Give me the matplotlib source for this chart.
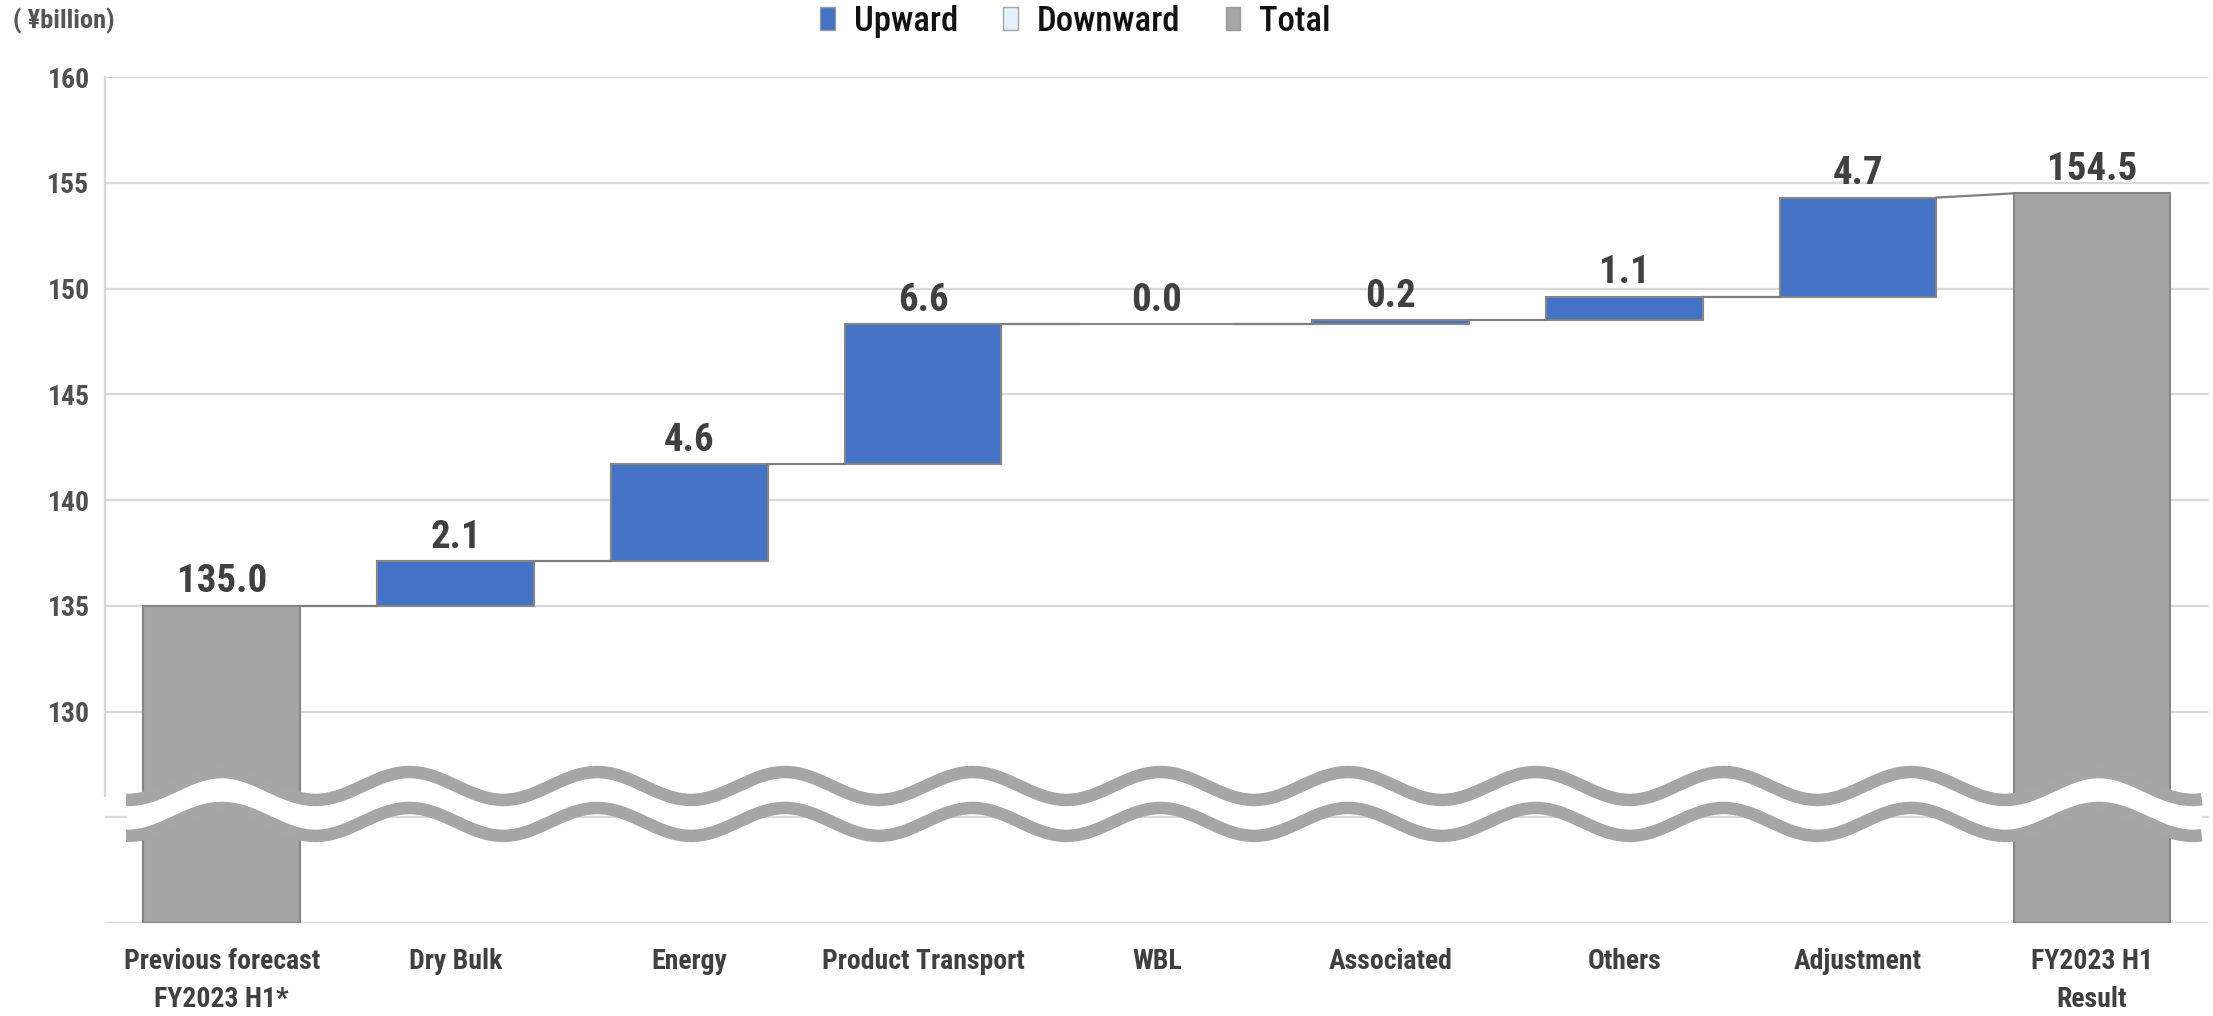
import numpy as np
import matplotlib
matplotlib.use('Agg')
from matplotlib import pyplot as plt
from matplotlib.patches import Patch

plt.rcParams['font.family'] = ['Roboto Condensed', 'DejaVu Sans']

# data
categories = ['Previous forecast\nFY2023 H1*', 'Dry Bulk', 'Energy', 'Product Transport',
              'WBL', 'Associated', 'Others', 'Adjustment', 'FY2023 H1\nResult']
start_total = 135.0
changes = [2.1, 4.6, 6.6, 0.0, 0.2, 1.1, 4.7]
end_total = 154.5
y_ticks = [130, 135, 140, 145, 150, 155, 160]

BLUE = '#4472C4'
GREY = '#A5A5A5'
EDGE = '#858585'
TXT = '#404040'

fig = plt.figure(figsize=(22.13, 10.16), dpi=100)
ax = fig.add_axes([0.0474, 0.0915, 0.9507, 0.8327])

ymin = 120
x = np.arange(len(categories))
w = 0.67

# bottoms/tops of every bar
bottoms = [ymin]
tops = [start_total]
level = start_total
for c in changes:
    bottoms.append(level)
    level = level + c
    tops.append(level)
bottoms.append(ymin)
tops.append(end_total)

colors = [GREY] + [BLUE] * len(changes) + [GREY]
heights = [t - b for t, b in zip(tops, bottoms)]
ax.bar(x, heights, bottom=bottoms, width=w, color=colors, edgecolor=EDGE,
       linewidth=1.5, zorder=3)

# connectors
for i in range(len(x) - 1):
    y0 = tops[i]
    y1 = bottoms[i + 1] if i + 1 < len(x) - 1 else tops[i + 1]
    ax.plot([x[i] + w / 2, x[i + 1] - w / 2], [y0, y1], color='#7F7F7F', lw=1.6, zorder=3)

# value labels
labels = [start_total] + changes + [end_total]
for xi, t, v in zip(x, tops, labels):
    ax.annotate(f'{v:.1f}', (xi, t), xytext=(0, 4), textcoords='offset points',
                ha='center', va='bottom', fontsize=28, fontweight='bold', color=TXT)

# broken-axis wave
xw = np.linspace(-0.41, 8.47, 800)
ph = 2 * np.pi * xw / 0.803
up = 126.48 + 0.66 * np.cos(ph)
lo = 124.78 + 0.66 * np.cos(ph)
ax.fill_between(xw, up, lo, color='white', lw=0, zorder=5)
ax.plot(xw, up, color='#A6A6A6', lw=9, zorder=6, solid_capstyle='butt')
ax.plot(xw, lo, color='#A6A6A6', lw=9, zorder=6, solid_capstyle='butt')

ax.set_xlim(-0.5, 8.5)
ax.set_ylim(ymin, 160)
ax.set_yticks(range(120, 161, 5))
ax.set_yticklabels(['' if t not in y_ticks else str(t) for t in range(120, 161, 5)])
ax.yaxis.grid(True, color='#D9D9D9', lw=1.6, zorder=0)
ax.set_axisbelow(True)
ax.set_xticks(x)
ax.set_xticklabels(categories, fontsize=20, fontweight='bold', color=TXT, linespacing=1.5)
ax.tick_params(axis='x', length=0, pad=18)
ax.tick_params(axis='y', length=0, pad=11, labelsize=20, labelcolor='#505050')
for lab in ax.get_yticklabels():
    lab.set_fontweight('bold')

for s in ['top', 'right', 'bottom']:
    ax.spines[s].set_visible(False)
ax.spines['left'].set_color('#D9D9D9')
ax.spines['left'].set_linewidth(1.6)
ax.spines['left'].set_bounds(126, 160)

fig.text(0.006, 0.979, '( \u00a5billion)', fontsize=19, fontweight='bold', color='#555555',
         va='center', ha='left')

handles = [Patch(facecolor=BLUE, edgecolor='#9a9a9a'),
           Patch(facecolor='#E4F0FA', edgecolor='#A6A6A6'),
           Patch(facecolor=GREY, edgecolor='#9a9a9a')]
leg = fig.legend(handles, ['Upward', 'Downward', 'Total'], loc='center', bbox_to_anchor=(0.486, 0.979),
                 ncol=3, frameon=False, fontsize=25, handlelength=0.42, handleheight=0.62,
                 handletextpad=0.55, columnspacing=1.3, labelcolor='#111111')
for t in leg.get_texts():
    t.set_fontweight(500)

fig.savefig('out.png', dpi=100)
